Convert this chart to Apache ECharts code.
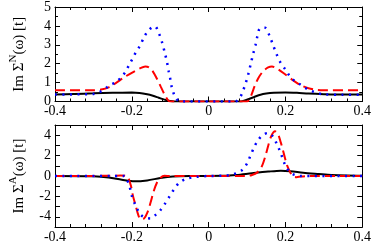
<!DOCTYPE html>
<html><head><meta charset="utf-8">
<script src="https://cdn.jsdelivr.net/npm/echarts@6/dist/echarts.min.js"></script>
<style>html,body{margin:0;padding:0;background:#fff}#c{width:374px;height:244px}</style>
</head><body><div id="c"></div>
<script>
// ---- Data ----
const xTicks = [-0.4, -0.2, 0, 0.2, 0.4];

// Top panel: Im Sigma^N(omega)
const nBlackX = [-0.4,-0.35,-0.3,-0.25,-0.2,-0.18,-0.16,-0.145,-0.13,-0.115,-0.1,-0.09,0,0.08,0.09,0.105,0.12,0.135,0.15,0.17,0.2,0.23,0.26,0.3,0.35,0.4];
const nBlackY = [0.37,0.4,0.43,0.46,0.47,0.45,0.38,0.3,0.2,0.1,0.03,0,0,0,0.03,0.13,0.25,0.36,0.42,0.46,0.48,0.46,0.42,0.39,0.37,0.37];

const nRedX = [-0.4,-0.3,-0.28,-0.26,-0.24,-0.22,-0.2,-0.18,-0.165,-0.155,-0.145,-0.135,-0.125,-0.115,-0.107,-0.1,0,0.1,0.106,0.112,0.12,0.13,0.142,0.155,0.165,0.18,0.2,0.22,0.24,0.26,0.28,0.3,0.4];
const nRedY = [0.6,0.6,0.63,0.75,1.0,1.28,1.52,1.74,1.85,1.8,1.58,1.22,0.8,0.38,0.1,0,0,0,0.1,0.38,0.82,1.26,1.6,1.8,1.85,1.72,1.43,1.12,0.86,0.7,0.62,0.6,0.6];

const nBlueX = [-0.4,-0.3,-0.285,-0.273,-0.259,-0.24,-0.227,-0.216,-0.207,-0.198,-0.19,-0.178,-0.167,-0.155,-0.14,-0.129,-0.121,-0.113,-0.108,-0.104,-0.1,-0.096,-0.091,-0.085,-0.078,-0.07,0.07,0.076,0.083,0.09,0.097,0.104,0.11,0.116,0.122,0.127,0.134,0.147,0.159,0.167,0.175,0.186,0.199,0.211,0.224,0.24,0.256,0.275,0.3,0.35,0.4];
const nBlueY = [0.37,0.4,0.5,0.62,0.84,1.04,1.3,1.58,1.94,2.27,2.58,2.98,3.45,3.8,3.98,3.58,3.11,2.49,2.05,1.6,1.21,0.76,0.42,0.17,0.02,0,0,0.08,0.25,0.59,1.0,1.5,2.02,2.52,2.98,3.45,3.88,3.9,3.45,3.03,2.6,2.1,1.72,1.35,1.09,0.88,0.67,0.5,0.38,0.36,0.36];

// Bottom panel: Im Sigma^A(omega)
const aBlackX = [-0.4,-0.3,-0.26,-0.226,-0.193,-0.16,-0.126,-0.093,-0.05,0.04,0.072,0.113,0.155,0.188,0.213,0.246,0.287,0.32,0.36,0.4];
const aBlackY = [0,-0.03,-0.14,-0.36,-0.52,-0.43,-0.2,-0.05,0,0.02,0.1,0.27,0.43,0.52,0.47,0.33,0.2,0.1,0.04,0.02];

const aRedX = [-0.4,-0.25,-0.23,-0.215,-0.209,-0.202,-0.197,-0.19,-0.183,-0.176,-0.168,-0.159,-0.151,-0.143,-0.135,-0.126,-0.115,-0.1,0.1,0.113,0.126,0.138,0.147,0.155,0.163,0.173,0.181,0.188,0.196,0.204,0.213,0.221,0.229,0.24,0.26,0.4];
const aRedY = [0,0.02,0.05,0,-0.2,-1.0,-1.95,-2.9,-3.84,-4.26,-4.16,-3.53,-2.58,-1.49,-0.68,-0.2,0.02,0,0,0.1,0.33,0.9,1.85,2.95,3.9,4.38,4.06,3.27,2.17,1.06,0.33,-0.05,-0.12,-0.05,0,0];

const aBlueX = [-0.4,-0.22,-0.213,-0.207,-0.2,-0.192,-0.184,-0.176,-0.163,-0.151,-0.139,-0.126,-0.114,-0.101,-0.089,-0.077,-0.06,-0.035,0,0.04,0.056,0.072,0.087,0.1,0.109,0.119,0.13,0.142,0.155,0.167,0.178,0.188,0.196,0.204,0.213,0.225,0.24,0.4];
const aBlueY = [0,0,-0.36,-0.84,-1.95,-2.74,-3.37,-3.84,-4.1,-4.16,-3.84,-3.37,-2.74,-1.95,-1.25,-0.68,-0.3,-0.1,0,0.03,0.1,0.27,0.58,1.22,2.0,2.86,3.58,4.05,4.22,3.9,3.1,2.23,1.37,0.74,0.33,0.1,0,0];

// ---- Chart ----
const zip = (xs, ys) => xs.map((x, i) => [x, ys[i]]);
const FONT = 'Liberation Serif';
const BLUE = '#0000ff', RED = '#ff0000', BLACK = '#000000';

function xAx(gi, pos, show) {
  return {
    type: 'value', gridIndex: gi, position: pos, min: -0.4, max: 0.4, interval: 0.2,
    axisLine: {show: true, onZero: false, lineStyle: {color: '#000', width: 1}},
    axisTick: {show: true, inside: true, length: 5, lineStyle: {color: '#000'}},
    minorTick: {show: true, splitNumber: 5, length: 3, lineStyle: {color: '#000'}},
    splitLine: {show: false},
    axisLabel: {show: show, color: '#000', fontFamily: FONT, fontSize: 14, margin: 3,
      formatter: v => { const r = Math.round(v * 10) / 10; return r === 0 ? '0' : String(r); }}
  };
}
function yAx(gi, pos, show, min, max, opt) {
  return Object.assign({
    type: 'value', gridIndex: gi, position: pos, min: min, max: max, interval: 1,
    axisLine: {show: true, onZero: false, lineStyle: {color: '#000', width: 1}},
    axisTick: {show: true, inside: true, length: 5, lineStyle: {color: '#000'}},
    splitLine: {show: false},
    axisLabel: {show: show, color: '#000', fontFamily: FONT, fontSize: 14, margin: 4}
  }, opt || {});
}
const nameRich = {
  a: {fontFamily: FONT, fontSize: 15, color: '#000'},
  s: {fontFamily: FONT, fontSize: 11, color: '#000', padding: [0, 0, 11, 0]}
};

const chart = echarts.init(document.getElementById('c'), null, {renderer: 'canvas'});
chart.setOption({
  animation: false,
  backgroundColor: '#fff',
  grid: [
    {left: 43, right: 8, top: 3, height: 98.5},
    {left: 43, right: 8, top: 125, height: 105}
  ],
  xAxis: [
    xAx(0, 'bottom', true), xAx(0, 'top', false),
    xAx(1, 'bottom', true), xAx(1, 'top', false)
  ],
  yAxis: [
    yAx(0, 'left', true, 0, 5, {
      minorTick: {show: true, splitNumber: 2, length: 3, lineStyle: {color: '#000'}},
      name: '{a|Im Σ}{s|N}{a|(ω) [t]}', nameLocation: 'middle', nameGap: 25,
      nameTextStyle: {rich: nameRich}
    }),
    yAx(0, 'right', false, 0, 5, {
      minorTick: {show: true, splitNumber: 2, length: 3, lineStyle: {color: '#000'}}
    }),
    yAx(1, 'left', true, -5, 5, {
      axisLabel: {show: true, color: '#000', fontFamily: FONT, fontSize: 14, margin: 4,
        formatter: v => (Math.round(v) % 2 === 0 ? String(Math.round(v)) : '')},
      name: '{a|Im Σ}{s|A}{a|(ω) [t]}', nameLocation: 'middle', nameGap: 25,
      nameTextStyle: {rich: nameRich}
    }),
    yAx(1, 'right', false, -5, 5)
  ],
  series: [
    {type: 'line', xAxisIndex: 0, yAxisIndex: 0, data: zip(nBlackX, nBlackY), symbol: 'none', smooth: 0.3,
      lineStyle: {color: BLACK, width: 2}},
    {type: 'line', xAxisIndex: 0, yAxisIndex: 0, data: zip(nRedX, nRedY), symbol: 'none', smooth: 0.3,
      lineStyle: {color: RED, width: 2, type: [10, 5]}},
    {type: 'line', xAxisIndex: 0, yAxisIndex: 0, data: zip(nBlueX, nBlueY), symbol: 'none', smooth: 0.3,
      lineStyle: {color: BLUE, width: 2.5, type: [2, 5.5]}},
    {type: 'line', xAxisIndex: 2, yAxisIndex: 2, data: zip(aBlackX, aBlackY), symbol: 'none', smooth: 0.3,
      lineStyle: {color: BLACK, width: 2}},
    {type: 'line', xAxisIndex: 2, yAxisIndex: 2, data: zip(aRedX, aRedY), symbol: 'none', smooth: 0.3,
      lineStyle: {color: RED, width: 2, type: [10, 5]}},
    {type: 'line', xAxisIndex: 2, yAxisIndex: 2, data: zip(aBlueX, aBlueY), symbol: 'none', smooth: 0.3,
      lineStyle: {color: BLUE, width: 2.5, type: [2, 5.5]}}
  ]
});
</script>
</body></html>
